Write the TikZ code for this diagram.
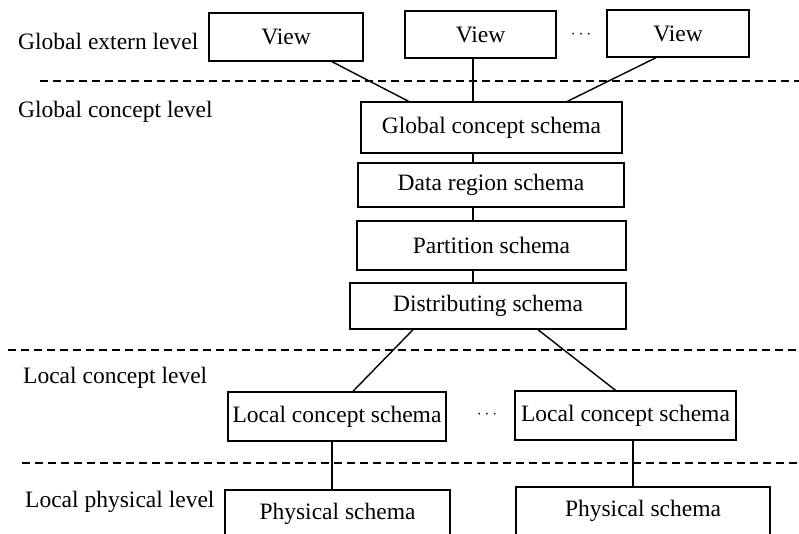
\documentclass[tikz,border=0pt]{standalone}
\usepackage{fontspec}
\setmainfont{Liberation Serif}
\begin{document}
\begin{tikzpicture}[x=1pt,y=-1pt,
  box/.style={draw,line width=1.4pt,inner sep=0pt,font=\fontsize{23.5}{28}\selectfont},
  lvl/.style={anchor=base west,inner sep=0pt,font=\fontsize{23.5}{28}\selectfont},
  conn/.style={line width=1.4pt},
  sep/.style={line width=1.4pt,dash pattern=on 8pt off 5pt}]
\useasboundingbox (0,0) rectangle (799,534);
\clip (0,0) rectangle (799,534);
% level labels
\node[lvl] (l1) at (18,50) {Global extern level};
\node[lvl] (l2) at (18,118) {Global concept level};
\node[lvl] (l3) at (23,383) {Local concept level};
\node[lvl] (l4) at (25,507) {Local physical level};
% separators
\coordinate (s1a) at (40,81);  \coordinate (s1b) at (799,81);
\coordinate (s2a) at (8,350);  \coordinate (s2b) at (799,350);
\coordinate (s3a) at (22,463); \coordinate (s3b) at (799,463);
\draw[sep] (s1a) -- (s1b);
\draw[sep] (s2a) -- (s2b);
\draw[sep] (s3a) -- (s3b);
% boxes
\node[box,minimum width=154pt,minimum height=48pt] (v1) at (286,37) {View};
\node[box,minimum width=151pt,minimum height=47pt] (v2) at (480.5,34.5) {View};
\node[inner sep=0pt,font=\fontsize{16}{18}\selectfont] (d1) at (581,35) {$\cdots$};
\node[box,minimum width=142pt,minimum height=47pt] (v3) at (678,33.5) {View};
\node[box,minimum width=261pt,minimum height=51pt] (gcs) at (491.5,127.5) {Global concept schema};
\node[box,minimum width=266pt,minimum height=44pt] (drs) at (491,185) {Data region schema};
\node[box,minimum width=269pt,minimum height=49pt] (ps) at (491.5,245.5) {Partition schema};
\node[box,minimum width=276pt,minimum height=46pt] (ds) at (488,306) {Distributing schema};
\node[box,minimum width=218pt,minimum height=49pt] (lcs1) at (337,416.5) {Local concept schema};
\node[inner sep=0pt,font=\fontsize{16}{18}\selectfont] (d2) at (487,415) {$\cdots$};
\node[box,minimum width=221pt,minimum height=49pt] (lcs2) at (625.5,415.5) {Local concept schema};
\node[box,minimum width=225pt,minimum height=48pt] (phy1) at (337.5,514) {Physical schema};
\node[box,minimum width=254pt,minimum height=48pt] (phy2) at (643,511) {Physical schema};
% connectors
\coordinate (ax) at (473,0);
\draw[conn] ([xshift=46pt]v1.south) -- ([xshift=-83pt]gcs.north);
\draw[conn] (v2.south -| ax) -- (gcs.north -| ax);
\draw[conn] ([xshift=-22pt]v3.south) -- ([xshift=76pt]gcs.north);
\draw[conn] (gcs.south -| ax) -- (drs.north -| ax);
\draw[conn] (drs.south -| ax) -- (ps.north -| ax);
\draw[conn] (ps.south -| ax) -- (ds.north -| ax);
\draw[conn] ([xshift=-75pt]ds.south) -- ([xshift=16pt]lcs1.north);
\draw[conn] ([xshift=50pt]ds.south) -- ([xshift=-10pt]lcs2.north);
\coordinate (c1) at (332,0);
\coordinate (c2) at (633,0);
\draw[conn] (lcs1.south -| c1) -- (phy1.north -| c1);
\draw[conn] (lcs2.south -| c2) -- (phy2.north -| c2);
\end{tikzpicture}
\end{document}
